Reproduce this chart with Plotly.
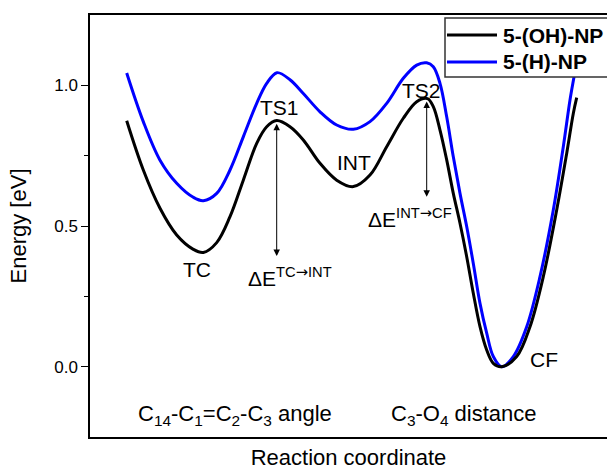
import plotly.graph_objects as go

# Reaction coordinate (arbitrary units) and energies [eV]
x_oh = [36.7, 53.3, 70, 86.7, 103.3, 113.3, 126.7, 140, 153.3, 166.7, 176.7, 186.7,
        200, 213.3, 230, 246.7, 263.3, 280, 296.7, 313.3, 326.7, 337.5, 343.3, 350,
        356.7, 363.3, 370, 376.7, 383.3, 390, 396.7, 403.3, 411.7, 426.7, 440,
        453.3, 466.7, 476.7, 483.3, 486.7]
e_oh = [0.874, 0.699, 0.563, 0.468, 0.417, 0.406, 0.441, 0.533, 0.663, 0.794, 0.853, 0.875,
        0.853, 0.806, 0.723, 0.663, 0.640, 0.681, 0.782, 0.883, 0.942, 0.953, 0.924, 0.841,
        0.735, 0.616, 0.510, 0.391, 0.261, 0.142, 0.059, 0.012, 0.0, 0.036, 0.142,
        0.320, 0.557, 0.758, 0.900, 0.956]

x_h = [36.7, 53.3, 70, 86.7, 103.3, 113.3, 126.7, 140, 153.3, 166.7, 176.7, 187,
       200, 213.3, 230, 246.7, 263.3, 280, 296.7, 313.3, 326.7, 336.7, 343.3, 350,
       356.7, 363.3, 370, 376.7, 383.3, 390, 396.7, 403.3, 411.7, 423.3, 436.7,
       450, 463.3, 473.3, 480, 484, 487]
e_h = [1.044, 0.871, 0.734, 0.652, 0.602, 0.590, 0.616, 0.699, 0.817, 0.936, 1.007, 1.045,
       1.020, 0.971, 0.906, 0.859, 0.844, 0.871, 0.936, 1.025, 1.072, 1.080, 1.066, 1.007,
       0.888, 0.746, 0.616, 0.498, 0.367, 0.225, 0.119, 0.036, 0.0, 0.036, 0.142,
       0.320, 0.557, 0.782, 0.948, 1.030, 1.090]

series_names = ["5-(OH)-NP", "5-(H)-NP"]
series_colors = ["#000000", "#0000ff"]

y_ticks = [0.0, 0.5, 1.0]

# state labels: (text, x, energy)
state_labels = [("TS1", 189.5, 0.921), ("TS2", 331, 0.981), ("INT", 264, 0.724),
                ("TC", 106.5, 0.345), ("CF", 453.5, 0.024)]

# barrier arrows: (x, top energy, bottom energy)
barriers = [(186.7, 0.869, 0.393), (336.7, 0.948, 0.604)]

FONT = "Liberation Sans, Arial, sans-serif"
ARROW = '<span style="font-family:DejaVu Sans">→</span>'

fig = go.Figure()
fig.add_trace(go.Scatter(x=x_h, y=e_h, mode="lines", name=series_names[1],
                         line=dict(color=series_colors[1], width=3, shape="spline", smoothing=1.0),
                         showlegend=False))
fig.add_trace(go.Scatter(x=x_oh, y=e_oh, mode="lines", name=series_names[0],
                         line=dict(color=series_colors[0], width=3, shape="spline", smoothing=1.0),
                         showlegend=False))

annotations = []
for t, xx, yy in state_labels:
    annotations.append(dict(x=xx, y=yy, xref="x", yref="y", text=t, showarrow=False,
                            font=dict(size=21, color="black", family=FONT)))

for xx, ytop, ybot in barriers:
    annotations.append(dict(x=xx, y=ybot, ax=xx, ay=ytop, xref="x", yref="y",
                            axref="x", ayref="y", text="", showarrow=True,
                            arrowhead=2, arrowside="end+start", arrowsize=1.3,
                            arrowwidth=1, arrowcolor="black"))

annotations.append(dict(x=155.5, y=0.322, xref="x", yref="y", xanchor="left", yanchor="middle",
                        text="ΔE<sup>TC" + ARROW + "INT</sup>", showarrow=False,
                        font=dict(size=21, color="black", family=FONT)))
annotations.append(dict(x=275.5, y=0.532, xref="x", yref="y", xanchor="left", yanchor="middle",
                        text="ΔE<sup>INT" + ARROW + "CF</sup>", showarrow=False,
                        font=dict(size=21, color="black", family=FONT)))
annotations.append(dict(x=145, y=-0.172, xref="x", yref="y",
                        text="C<sub>14</sub>-C<sub>1</sub>=C<sub>2</sub>-C<sub>3</sub> angle",
                        showarrow=False, font=dict(size=22, color="black", family=FONT)))
annotations.append(dict(x=373.6, y=-0.172, xref="x", yref="y",
                        text="C<sub>3</sub>-O<sub>4</sub> distance",
                        showarrow=False, font=dict(size=22, color="black", family=FONT)))

# legend (drawn in paper coordinates)
W, L, B, T = 607, 90, 33, 15
pw, ph = W - L, 470 - B - T
def px(x):
    return (x - L) / pw
def py(y):
    return (470 - B - y) / ph

shapes = [dict(type="rect", xref="paper", yref="paper", x0=px(445), x1=px(615),
               y0=py(77), y1=py(18), fillcolor="white", line=dict(color="#333333", width=1.5),
               layer="above")]
for i, (nm, col) in enumerate(zip(series_names, series_colors)):
    yy = [35, 62][i]
    shapes.append(dict(type="line", xref="paper", yref="paper", x0=px(447), x1=px(497),
                       y0=py(yy), y1=py(yy), line=dict(color=col, width=3), layer="above"))
    annotations.append(dict(x=px(501), y=py(yy), xref="paper", yref="paper", xanchor="left",
                            yanchor="middle", text="<b>%s</b>" % nm, showarrow=False,
                            font=dict(size=21, color="black", family=FONT)))

fig.update_layout(
    width=W, height=470,
    margin=dict(l=L, r=0, t=T, b=B, pad=0),
    paper_bgcolor="white", plot_bgcolor="white",
    font=dict(family=FONT, color="black"),
    annotations=annotations, shapes=shapes,
    showlegend=False,
)
fig.update_xaxes(range=[0, pw], showline=True, linecolor="black", linewidth=1.5, mirror=True,
                 showticklabels=False, ticks="", showgrid=False, zeroline=False,
                 title=dict(text="Reaction coordinate", font=dict(size=22), standoff=16))
fig.update_yaxes(range=[-0.25, 1.25], showline=True, linecolor="black", linewidth=1.5,
                 mirror=False, tickvals=y_ticks, ticktext=["%.1f" % v for v in y_ticks],
                 ticks="outside", ticklen=7, tickwidth=1, tickcolor="black",
                 tickfont=dict(size=17),
                 minor=dict(tickvals=[0.25, 0.75], ticks="outside", ticklen=4, tickcolor="black"),
                 showgrid=False, zeroline=False,
                 title=dict(text="Energy [eV]", font=dict(size=22), standoff=22))

fig.write_html("out.html")
